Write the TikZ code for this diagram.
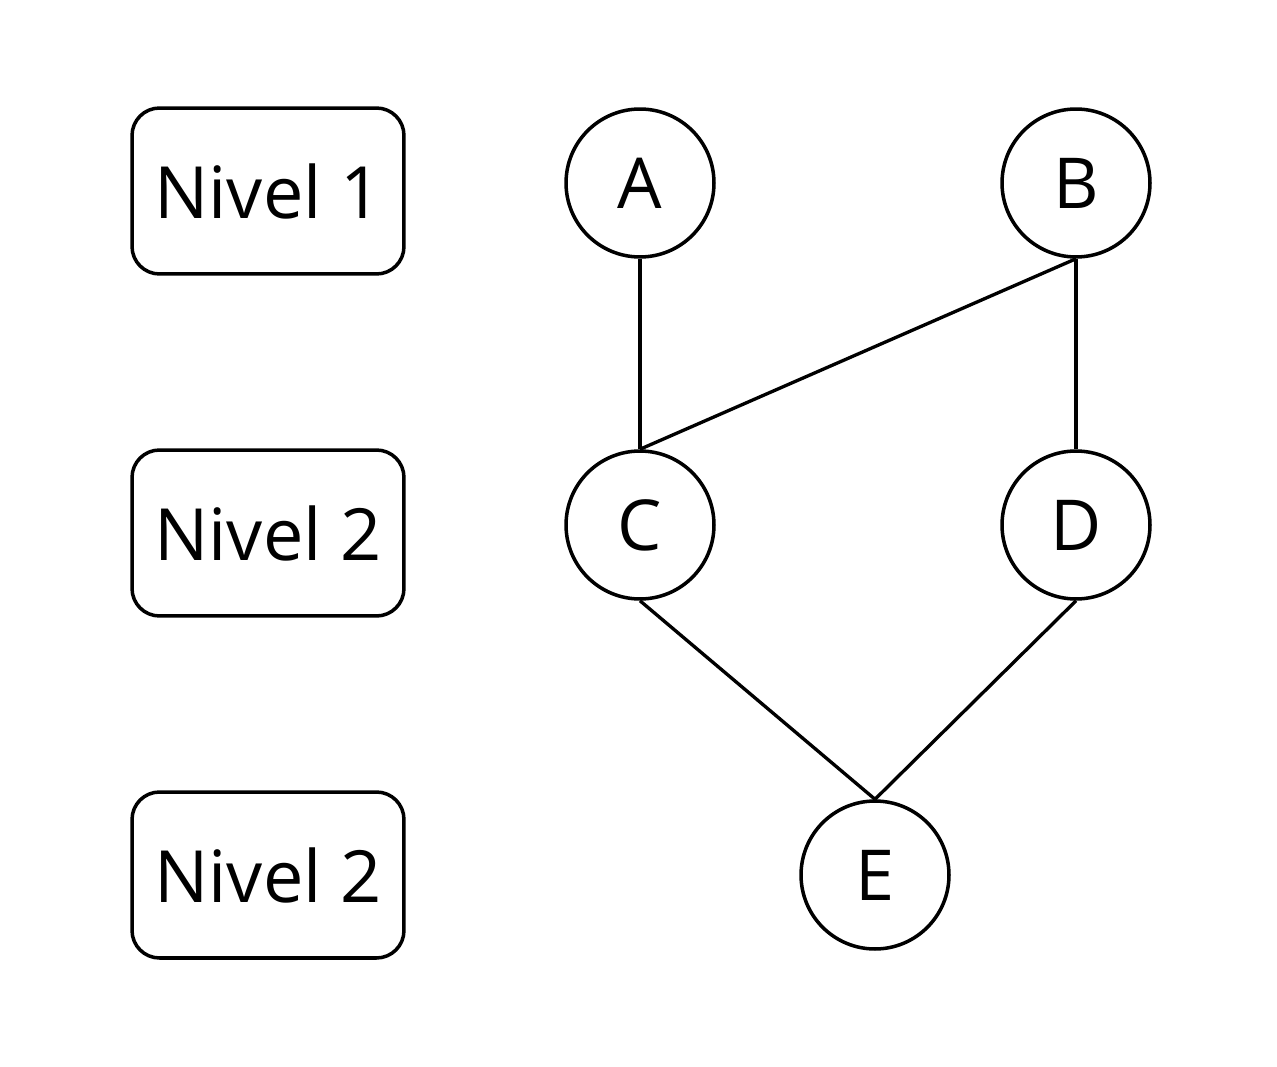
\documentclass[tikz,border=0pt]{standalone}
\usepackage{fontspec}
\setmainfont{Open Sans}
\usepackage{tikz}
\usetikzlibrary{positioning}

\begin{document}
\begin{tikzpicture}[x=0.02cm,y=-0.02cm]
  \tikzset{
    level/.style={draw,line width=2pt,rounded corners=0.55cm,
      minimum width=5.44cm,minimum height=3.32cm,inner sep=0pt,
      font=\fontsize{41}{48}\selectfont},
    vertex/.style={draw,circle,line width=2pt,minimum size=2.96cm,
      inner sep=0pt,font=\fontsize{40}{46}\selectfont},
    edge/.style={line width=1.9pt}
  }
  % keep the page the size of the reference
  \useasboundingbox (0,0) rectangle (1277,1067);

  % level labels on the left
  \node[level] (L1) at (268,191) {Nivel 1};
  \node[level] (L2) at (268,533) {Nivel 2};
  \node[level] (L3) at (268,875) {Nivel 2};

  % the graph
  \node[vertex] (A) at (640,183) {A};
  \node[vertex] (B) at (1076,183) {B};
  \node[vertex] (C) at (640,525) {C};
  \node[vertex] (D) at (1076,525) {D};
  \node[vertex] (E) at (875,875) {E};

  \draw[edge] (A.south) -- (C.north);
  \draw[edge] (B.south) -- (C.north);
  \draw[edge] (B.south) -- (D.north);
  \draw[edge] (C.south) -- (E.north);
  \draw[edge] (D.south) -- (E.north);
\end{tikzpicture}
\end{document}
